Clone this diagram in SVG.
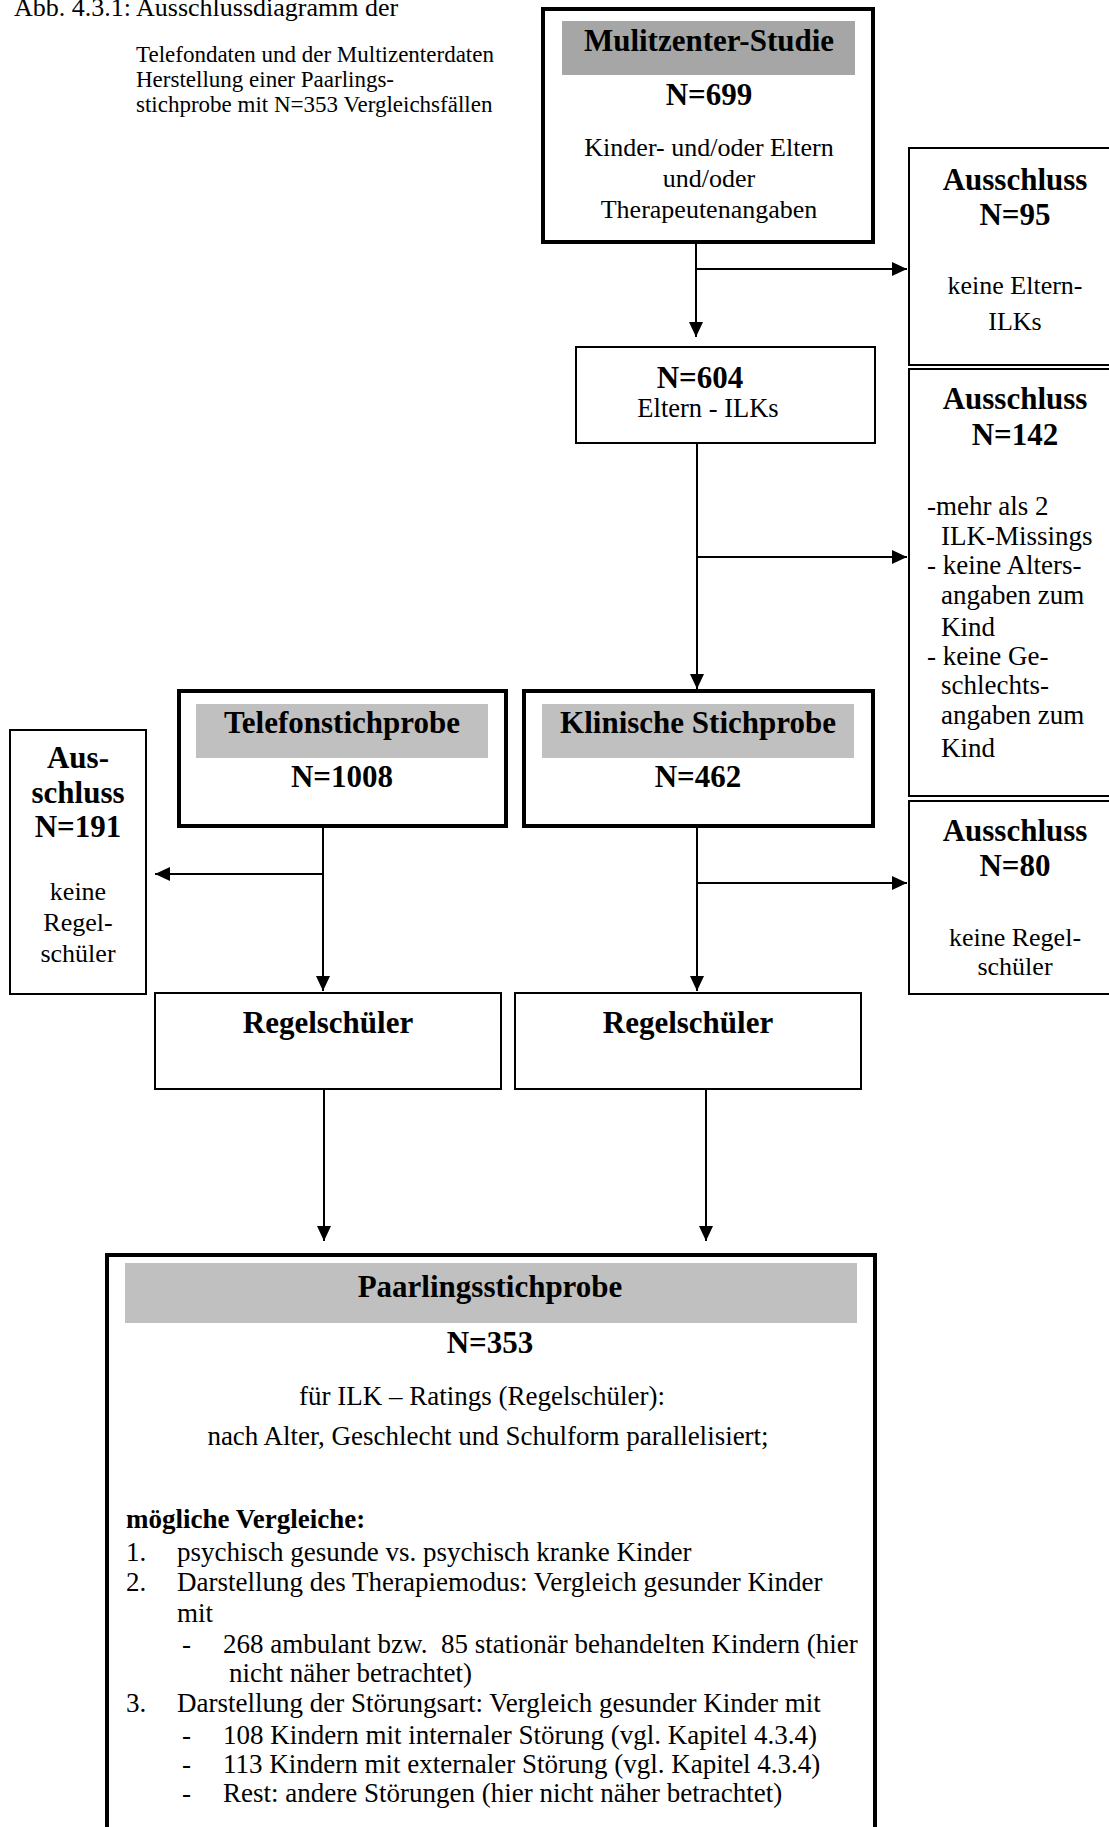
<svg xmlns="http://www.w3.org/2000/svg" width="1109" height="1827" viewBox="0 0 1109 1827">
<style>
text{font-family:"Liberation Serif","Times New Roman",serif;fill:#000}
.h{font-weight:bold;font-size:31px;text-anchor:middle}
.r{font-size:26px;text-anchor:middle}
.l{font-size:27px}
.c{font-size:27px}
.cm{font-size:27px;text-anchor:middle}
.box{fill:#fff;stroke:#000;stroke-width:2}
.thick{fill:#fff;stroke:#000;stroke-width:4}
.g1{fill:#a6a6a6}
.g2{fill:#c0c0c0}
.con line{stroke:#000;stroke-width:2}
</style>
<defs>
<marker id="ah" markerUnits="userSpaceOnUse" viewBox="0 0 15 14" refX="15" refY="7" markerWidth="15" markerHeight="14" orient="auto">
<path d="M0,0 L15,7 L0,14 z" fill="#000"/>
</marker>
</defs>
<rect width="1109" height="1827" fill="#fff"/>

<g id="title">
<text x="14" y="16" style="font-size:26px">Abb. 4.3.1: Ausschlussdiagramm der</text>
<text x="136" y="62" style="font-size:23px">Telefondaten und der Multizenterdaten</text>
<text x="136" y="87" style="font-size:23px">Herstellung einer Paarlings-</text>
<text x="136" y="112" style="font-size:23px">stichprobe mit N=353 Vergleichsfällen</text>
</g>

<g id="multizenter">
<rect class="thick" x="543" y="9" width="330" height="233"/>
<rect class="g1" x="562" y="21" width="293" height="54"/>
<text class="h" x="709" y="51">Mulitzenter-Studie</text>
<text class="h" x="709" y="105">N=699</text>
<text class="r" x="709" y="156">Kinder- und/oder Eltern</text>
<text class="r" x="709" y="187">und/oder</text>
<text class="r" x="709" y="218">Therapeutenangaben</text>
</g>

<g id="ausschluss95">
<rect class="box" x="909" y="148" width="210" height="217"/>
<text class="h" x="1015" y="190">Ausschluss</text>
<text class="h" x="1015" y="225">N=95</text>
<text class="r" x="1015" y="294">keine Eltern-</text>
<text class="r" x="1015" y="330">ILKs</text>
</g>

<g id="n604">
<rect class="box" x="576" y="347" width="299" height="96"/>
<text class="h" x="700" y="388">N=604</text>
<text class="r" x="708" y="417" style="font-size:26.5px">Eltern - ILKs</text>
</g>

<g id="ausschluss142">
<rect class="box" x="909" y="369" width="210" height="427"/>
<text class="h" x="1015" y="409">Ausschluss</text>
<text class="h" x="1015" y="445">N=142</text>
<text class="l" x="927" y="515">-mehr als 2</text>
<text class="l" x="941" y="545">ILK-Missings</text>
<text class="l" x="927" y="574">- keine Alters-</text>
<text class="l" x="941" y="604">angaben zum</text>
<text class="l" x="941" y="636">Kind</text>
<text class="l" x="927" y="665">- keine Ge-</text>
<text class="l" x="941" y="694">schlechts-</text>
<text class="l" x="941" y="724">angaben zum</text>
<text class="l" x="941" y="757">Kind</text>
</g>

<g id="telefon">
<rect class="thick" x="179" y="691" width="327" height="135"/>
<rect class="g2" x="196" y="704" width="292" height="54"/>
<text class="h" x="342" y="733">Telefonstichprobe</text>
<text class="h" x="342" y="787">N=1008</text>
</g>

<g id="klinisch">
<rect class="thick" x="524" y="691" width="349" height="135"/>
<rect class="g2" x="542" y="704" width="312" height="54"/>
<text class="h" x="698" y="733">Klinische Stichprobe</text>
<text class="h" x="698" y="787">N=462</text>
</g>

<g id="ausschluss191">
<rect class="box" x="10" y="730" width="136" height="264"/>
<text class="h" x="78" y="768">Aus-</text>
<text class="h" x="78" y="803">schluss</text>
<text class="h" x="78" y="837">N=191</text>
<text class="r" x="78" y="900">keine</text>
<text class="r" x="78" y="931">Regel-</text>
<text class="r" x="78" y="962">schüler</text>
</g>

<g id="ausschluss80">
<rect class="box" x="909" y="801" width="210" height="193"/>
<text class="h" x="1015" y="841">Ausschluss</text>
<text class="h" x="1015" y="876">N=80</text>
<text class="r" x="1015" y="946">keine Regel-</text>
<text class="r" x="1015" y="975">schüler</text>
</g>

<g id="regel1">
<rect class="box" x="155" y="993" width="346" height="96"/>
<text class="h" x="328" y="1033">Regelschüler</text>
</g>

<g id="regel2">
<rect class="box" x="515" y="993" width="346" height="96"/>
<text class="h" x="688" y="1033">Regelschüler</text>
</g>

<g id="paarling">
<rect class="thick" x="107" y="1255" width="768" height="600"/>
<rect class="g2" x="125" y="1263" width="732" height="60"/>
<text class="h" x="490" y="1297">Paarlingsstichprobe</text>
<text class="h" x="490" y="1353">N=353</text>
<text class="cm" x="482" y="1405">für ILK – Ratings (Regelschüler):</text>
<text class="cm" x="488" y="1445">nach Alter, Geschlecht und Schulform parallelisiert;</text>
<text class="c" x="126" y="1528" style="font-weight:bold">mögliche Vergleiche:</text>
<text class="c" x="126" y="1561">1.</text>
<text class="c" x="177" y="1561">psychisch gesunde vs. psychisch kranke Kinder</text>
<text class="c" x="126" y="1591">2.</text>
<text class="c" x="177" y="1591">Darstellung des Therapiemodus: Vergleich gesunder Kinder</text>
<text class="c" x="177" y="1622">mit</text>
<text class="c" x="182" y="1653">-</text>
<text class="c" x="223" y="1653">268 ambulant bzw.&#160; 85 stationär behandelten Kindern (hier</text>
<text class="c" x="229" y="1682">nicht näher betrachtet)</text>
<text class="c" x="126" y="1712">3.</text>
<text class="c" x="177" y="1712">Darstellung der Störungsart: Vergleich gesunder Kinder mit</text>
<text class="c" x="182" y="1744">-</text>
<text class="c" x="223" y="1744">108 Kindern mit internaler Störung (vgl. Kapitel 4.3.4)</text>
<text class="c" x="182" y="1773">-</text>
<text class="c" x="223" y="1773">113 Kindern mit externaler Störung (vgl. Kapitel 4.3.4)</text>
<text class="c" x="182" y="1802">-</text>
<text class="c" x="223" y="1802">Rest: andere Störungen (hier nicht näher betrachtet)</text>
</g>

<g id="connectors" class="con">
<line x1="696" y1="242" x2="696" y2="337" marker-end="url(#ah)"/>
<line x1="696" y1="269" x2="907" y2="269" marker-end="url(#ah)"/>
<line x1="697" y1="443" x2="697" y2="689" marker-end="url(#ah)"/>
<line x1="697" y1="557" x2="907" y2="557" marker-end="url(#ah)"/>
<line x1="323" y1="826" x2="323" y2="991" marker-end="url(#ah)"/>
<line x1="323" y1="874" x2="155" y2="874" marker-end="url(#ah)"/>
<line x1="697" y1="826" x2="697" y2="991" marker-end="url(#ah)"/>
<line x1="697" y1="883" x2="907" y2="883" marker-end="url(#ah)"/>
<line x1="324" y1="1089" x2="324" y2="1241" marker-end="url(#ah)"/>
<line x1="706" y1="1089" x2="706" y2="1241" marker-end="url(#ah)"/>
</g>
</svg>
